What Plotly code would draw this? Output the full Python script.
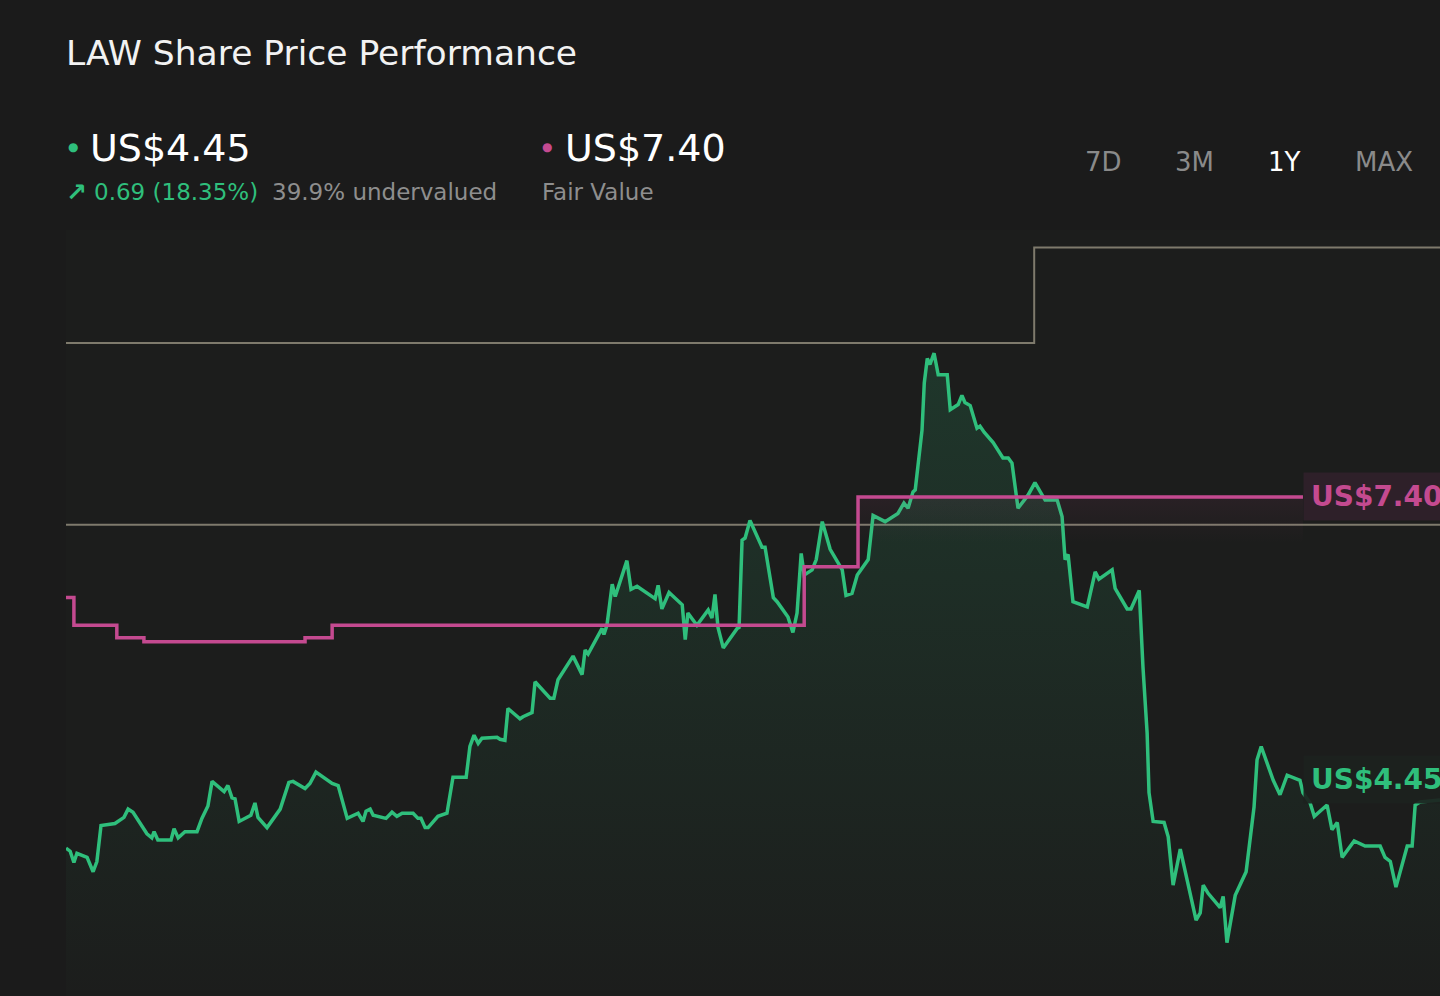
import plotly.graph_objects as go

# LAW share price, 1Y view (day offset from start, price in US$)
price_days = [0.0, 1.1, 2.1, 2.9, 5.6, 7.2, 8.2, 9.3, 13.0, 15.4, 16.5, 17.8, 21.5, 22.8, 23.4, 24.4,
              27.9, 28.7, 29.8, 31.6, 34.8, 36.1, 37.7, 38.8, 42.0, 43.0, 44.1, 44.9, 46.0, 49.1, 50.2,
              51.0, 53.4, 56.9, 59.2, 60.3, 63.5, 64.8, 66.4, 70.7, 72.3, 74.7, 77.6, 78.9, 79.7, 80.8,
              81.6, 85.0, 86.6, 87.9, 89.3, 92.2, 93.5, 94.3, 95.4, 96.2, 98.8, 101.2, 102.8, 106.3,
              107.3, 108.4, 109.5, 110.5, 114.5, 115.3, 116.6, 117.4, 120.6, 121.4, 123.8, 124.6, 128.6,
              129.6, 130.7, 134.7, 137.1, 137.9, 138.7, 142.4, 142.9, 143.7, 145.1, 145.9, 149.0, 150.1,
              151.7, 153.3, 156.5, 157.3, 158.3, 160.2, 163.7, 164.5, 165.2, 167.6, 170.6, 171.6, 172.4,
              173.2, 174.6, 178.3, 178.8, 179.6, 180.4, 181.7, 184.9, 185.7, 187.9, 188.9, 191.8, 193.1,
              194.2, 195.3, 196.1, 198.2, 199.3, 200.9, 203.0, 206.2, 207.2, 208.8, 210.2, 213.1, 214.4,
              217.6, 221.0, 222.6, 223.7, 225.0, 225.6, 227.4, 228.0, 228.8, 229.5, 230.6, 231.7, 234.1,
              234.9, 237.0, 238.0, 238.8, 240.2, 242.0, 242.8, 243.9, 246.3, 248.9, 250.3, 251.3, 252.9,
              255.6, 257.4, 260.1, 263.3, 264.6, 265.4, 266.2, 267.5, 271.3, 273.4, 274.4, 277.9, 278.7,
              281.9, 282.9, 285.1, 286.1, 287.2, 287.7, 288.8, 291.7, 292.8, 294.1, 296.0, 300.2, 301.3,
              302.1, 303.4, 306.6, 307.4, 308.4, 310.6, 313.5, 315.1, 315.6, 316.4, 317.5, 320.7, 322.5,
              324.4, 327.8, 328.6, 330.5, 331.6, 335.0, 336.3, 337.7, 339.0, 342.2, 345.1, 349.1, 350.4,
              351.8, 353.3, 356.3, 357.6, 358.4, 359.7, 365.0]
price_values = [3.98, 3.95, 3.84, 3.93, 3.89, 3.75, 3.85, 4.20, 4.22, 4.28, 4.36, 4.33, 4.12, 4.08, 4.14, 4.06,
                4.06, 4.17, 4.08, 4.14, 4.14, 4.27, 4.39, 4.63, 4.53, 4.59, 4.47, 4.46, 4.24, 4.30, 4.42,
                4.28, 4.18, 4.36, 4.62, 4.63, 4.56, 4.61, 4.72, 4.61, 4.59, 4.27, 4.32, 4.24, 4.34, 4.36,
                4.30, 4.27, 4.33, 4.29, 4.32, 4.32, 4.27, 4.27, 4.18, 4.18, 4.29, 4.32, 4.67, 4.67,
                4.97, 5.08, 5.00, 5.05, 5.06, 5.04, 5.03, 5.34, 5.24, 5.26, 5.30, 5.60, 5.44,
                5.44, 5.62, 5.85, 5.67, 5.91, 5.87, 6.12, 6.06, 6.15, 6.55, 6.43, 6.78, 6.50,
                6.53, 6.49, 6.41, 6.54, 6.31, 6.47, 6.35, 6.01, 6.27, 6.15, 6.30, 6.22, 6.45,
                6.13, 5.93, 6.12, 6.13, 6.98, 7.00, 7.17, 6.91, 6.91, 6.42, 6.38, 6.23, 6.08,
                6.27, 6.85, 6.64, 6.69, 6.79, 7.16, 6.89, 6.69, 6.44, 6.46, 6.64, 6.79, 7.22,
                7.16, 7.24, 7.34, 7.29, 7.45, 7.47, 8.05, 8.51, 8.75, 8.69, 8.80, 8.59, 8.59,
                8.25, 8.30, 8.39, 8.32, 8.29, 8.07, 8.09, 8.03, 7.93, 7.78, 7.78, 7.73, 7.29,
                7.42, 7.54, 7.37, 7.37, 7.21, 6.79, 6.84, 6.38, 6.33, 6.67, 6.60, 6.69, 6.51,
                6.31, 6.31, 6.49, 5.74, 5.10, 4.52, 4.24, 4.23, 4.09, 3.62, 3.97, 3.28, 3.35,
                3.62, 3.54, 3.40, 3.51, 3.06, 3.52, 3.75, 4.19, 4.38, 4.84, 4.97, 4.64, 4.50,
                4.69, 4.64, 4.52, 4.42, 4.29, 4.40, 4.16, 4.23, 3.89, 4.05, 4.00, 4.00, 3.89,
                3.85, 3.60, 4.00, 4.00, 4.40, 4.43, 4.45]

# fair value estimate (step line)
fv_days = [0.0, 2.1, 13.5, 20.7, 63.5, 70.7, 196.1, 210.4, 328.6]
fv_values = [6.42, 6.15, 6.03, 5.99, 6.03, 6.15, 6.72, 7.40, 7.40]

# grey reference levels
ref_high_days = [0.0, 257.2, 365.0]
ref_high_values = [8.90, 9.83, 9.83]
ref_low_days = [0.0, 365.0]
ref_low_values = [7.13, 7.13]

title = "LAW Share Price Performance"
price_label = "US$4.45"
fv_label = "US$7.40"
change_text = "0.69 (18.35%)"
valuation_text = "39.9% undervalued"
periods = ["7D", "3M", "1Y", "MAX"]
active_period = "1Y"

green = "#2fbf7c"
pink = "#c44a90"
grey_line = "#7e7a6c"
bg = "#1b1b1b"
font = "DejaVu Sans"

W, H = 1440, 996
L, T = 66, 230


def paper(x, y):
    # pixel position -> paper coordinates
    return (x - L) / (W - L), (H - y) / (H - T)


fig = go.Figure()

fig.add_trace(go.Scatter(x=ref_high_days, y=ref_high_values, mode="lines", line_shape="hv",
                         line=dict(color=grey_line, width=2), hoverinfo="skip"))
fig.add_trace(go.Scatter(x=ref_low_days, y=ref_low_values, mode="lines",
                         line=dict(color=grey_line, width=2), hoverinfo="skip"))

fig.add_trace(go.Scatter(x=price_days, y=price_values, mode="lines", fill="tozeroy",
                         line=dict(color=green, width=3.5),
                         fillgradient=dict(type="vertical", start=2.5, stop=8.8,
                                           colorscale=[[0, "rgba(47,191,124,0.0)"],
                                                       [1, "rgba(47,191,124,0.16)"]])))

fig.add_trace(go.Scatter(x=fv_days, y=fv_values, mode="lines", line_shape="hv", fill="tozeroy",
                         line=dict(color=pink, width=3.5),
                         fillgradient=dict(type="vertical", start=6.95, stop=7.40,
                                           colorscale=[[0, "rgba(196,74,144,0.0)"],
                                                       [1, "rgba(196,74,144,0.08)"]])))

ann = []


def text(x, y, s, size, color, bold=False, anchor="left"):
    px, py = paper(x, y)
    ann.append(dict(x=px, y=py, xref="paper", yref="paper", text=s, showarrow=False,
                    xanchor=anchor, yanchor="middle",
                    font=dict(family=font, size=size, color=color,
                              weight="bold" if bold else "normal")))


text(64, 53, title, 34.5, "#f2f2f2")
text(66, 147, "●", 12, green)
text(88, 148, price_label, 38, "#ffffff")
text(64, 193, "↗", 25, green, bold=True)
text(92, 192, change_text, 23, green)
text(270, 192, valuation_text, 23, "#8e8e8e")
text(540, 147, "●", 12, pink)
text(563, 148, fv_label, 38, "#ffffff")
text(540, 192, "Fair Value", 23, "#8e8e8e")

btn_x = [1083, 1173, 1266, 1353]
for bx, p in zip(btn_x, periods):
    text(bx, 162, p, 26, "#ffffff" if p == active_period else "#8a8a8a")

# value tags at the right edge (run off the window like the original)
ann.append(dict(x=fv_days[-1], y=fv_values[-1], xref="x", yref="y", text=fv_label,
                showarrow=False, xanchor="left", yanchor="middle", borderpad=7,
                bgcolor="rgba(52,34,46,0.75)",
                font=dict(family=font, size=28, color=pink, weight="bold")))
ann.append(dict(x=fv_days[-1], y=price_values[-1], xref="x", yref="y", text=price_label,
                showarrow=False, xanchor="left", yanchor="middle", borderpad=7, yshift=20,
                bgcolor="rgba(28,34,30,0.92)",
                font=dict(family=font, size=28, color=green, weight="bold")))

fig.update_layout(
    width=W, height=H,
    margin=dict(l=L, r=0, t=T, b=0),
    paper_bgcolor=bg, plot_bgcolor="#1c1d1c",
    showlegend=False,
    annotations=ann,
    xaxis=dict(range=[0, 365], visible=False, fixedrange=True),
    yaxis=dict(range=[2.54, 10.0], visible=False, fixedrange=True),
)

# drop the default page margin so the chart sits flush in the window
fig.write_html("out.html", config={"displayModeBar": False},
               post_script="document.body.style.margin='0';"
                           "document.body.style.background='#1b1b1b';"
                           "document.body.style.overflow='hidden';")
